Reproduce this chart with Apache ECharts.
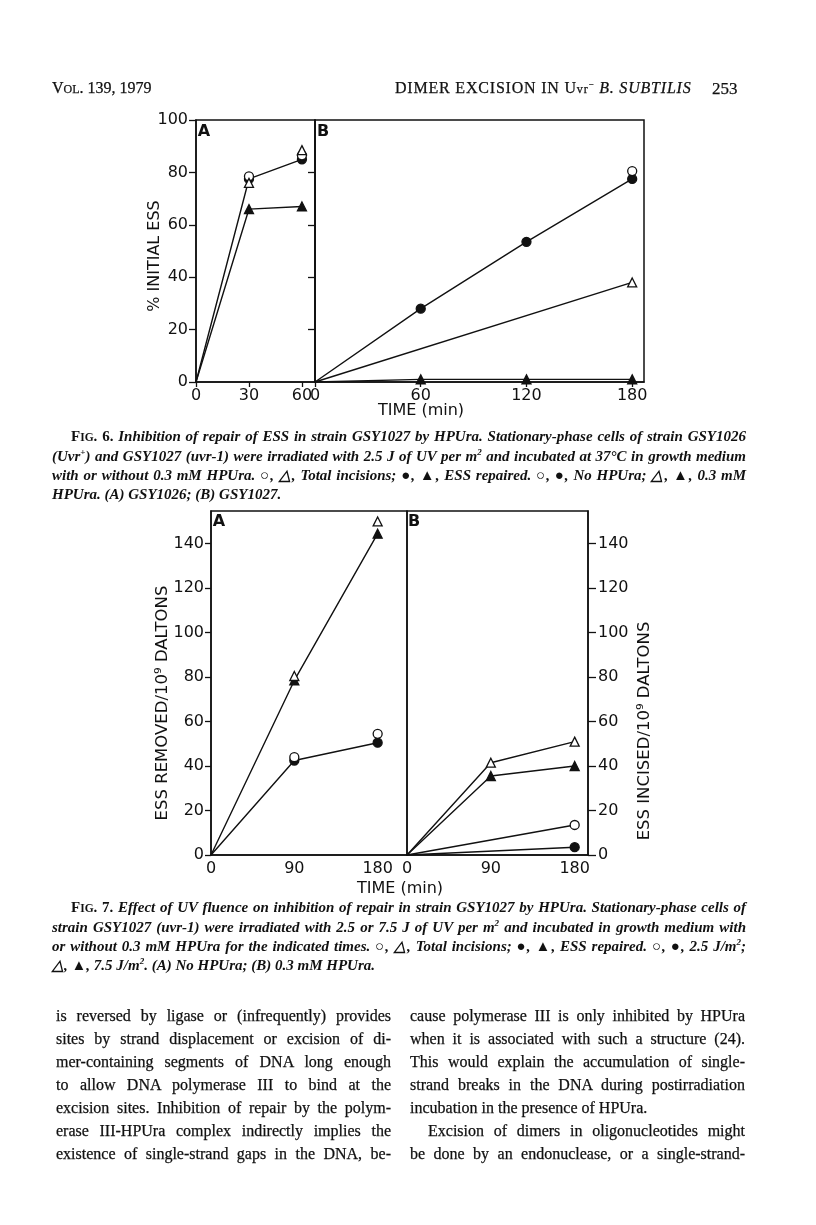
<!DOCTYPE html>
<html>
<head>
<meta charset="UTF-8">
<title>Dimer excision in Uvr- B. subtilis</title>
<script src="https://cdn.jsdelivr.net/npm/echarts@6/dist/echarts.min.js"></script>
<style>
  * { margin: 0; padding: 0; }
  body { width: 816px; height: 1225px; background: #fff; position: relative; overflow: hidden; }
  #main { position: absolute; left: 0; top: 0; width: 816px; height: 1225px; }
  .t { position: absolute; font-family: 'Liberation Serif', serif; color: #111; white-space: nowrap; z-index: 2; -webkit-text-stroke: 0.25px #111; }
  .hdr { font-size: 16px; top: 79px; }
  .cap { left: 52px; width: 694px; font-size: 15px; font-style: italic; font-weight: bold; line-height: 19px; -webkit-text-stroke: 0; }
  .cap div, .col div { text-align: justify; text-align-last: justify; }
  .cap div.last, .col div.last { text-align-last: left; }
  .sc { font-style: normal; font-size: 15px; }
  .sc small { font-size: 11.5px; }
  .col { width: 335px; font-size: 16px; line-height: 23px; top: 1004px; }
  sup { font-size: 9px; line-height: 0; }
</style>
</head>
<body>
<div id="main"></div>

<div class="t hdr" style="left:52px;">V<small style="font-size:12px">OL</small>. 139, 1979</div>
<div class="t hdr" style="left:395px; letter-spacing:0.8px;">DIMER EXCISION IN U<small style="font-size:12px">vr</small><sup>−</sup> <i>B. SUBTILIS</i></div>
<div class="t hdr" style="left:712px; font-size:17px;">253</div>

<div class="t cap" style="top:427px;">
  <div style="padding-left:19px;"><span class="sc">F<small>IG</small>. 6.</span> Inhibition of repair of ESS in strain GSY1027 by HPUra. Stationary-phase cells of strain GSY1026</div>
  <div>(Uvr<sup>+</sup>) and GSY1027 (uvr-1) were irradiated with 2.5 J of UV per m<sup>2</sup> and incubated at 37°C in growth medium</div>
  <div>with or without 0.3 mM HPUra. ○, △, Total incisions; ●, ▲, ESS repaired. ○, ●, No HPUra; △, ▲, 0.3 mM</div>
  <div class="last">HPUra. (A) GSY1026; (B) GSY1027.</div>
</div>

<div class="t cap" style="top:898px;">
  <div style="padding-left:19px;"><span class="sc">F<small>IG</small>. 7.</span> Effect of UV fluence on inhibition of repair in strain GSY1027 by HPUra. Stationary-phase cells of</div>
  <div>strain GSY1027 (uvr-1) were irradiated with 2.5 or 7.5 J of UV per m<sup>2</sup> and incubated in growth medium with</div>
  <div>or without 0.3 mM HPUra for the indicated times. ○, △, Total incisions; ●, ▲, ESS repaired. ○, ●, 2.5 J/m<sup>2</sup>;</div>
  <div class="last">△, ▲, 7.5 J/m<sup>2</sup>. (A) No HPUra; (B) 0.3 mM HPUra.</div>
</div>

<div class="t col" style="left:56px;">
  <div>is reversed by ligase or (infrequently) provides</div>
  <div>sites by strand displacement or excision of di-</div>
  <div>mer-containing segments of DNA long enough</div>
  <div>to allow DNA polymerase III to bind at the</div>
  <div>excision sites. Inhibition of repair by the polym-</div>
  <div>erase III-HPUra complex indirectly implies the</div>
  <div>existence of single-strand gaps in the DNA, be-</div>
</div>
<div class="t col" style="left:410px;">
  <div>cause polymerase III is only inhibited by HPUra</div>
  <div>when it is associated with such a structure (24).</div>
  <div>This would explain the accumulation of single-</div>
  <div>strand breaks in the DNA during postirradiation</div>
  <div class="last">incubation in the presence of HPUra.</div>
  <div style="padding-left:18px;">Excision of dimers in oligonucleotides might</div>
  <div>be done by an endonuclease, or a single-strand-</div>
</div>

<script>
// ---- Fig. 6 (% initial ESS) ----
var f6aTime = [0, 30, 60];
var f6aOpenCircle = [null, 78.5, 86.5];
var f6aFilledCircle = [0, 77.5, 85];
var f6aOpenTriangle = [null, 76, 88.5];
var f6aFilledTriangle = [0, 66, 67];

var f6bTime = [0, 60, 120, 180];
var f6bOpenCircle = [null, null, null, 80.5];
var f6bFilledCircle = [0, 28, 53.5, 77.5];
var f6bOpenTriangle = [0, null, null, 38];
var f6bFilledTriangle = [0, 1, 1, 1];

var f6aTicks = [0, 30, 60];
var f6bTicks = [0, 60, 120, 180];
var f6yTicks = [0, 20, 40, 60, 80, 100];

// ---- Fig. 7 (ESS per 10^9 daltons) ----
var f7Time = [0, 90, 180];
var f7aOpenTriangle = [null, 80.5, 150];
var f7aFilledTriangle = [0, 78.5, 144.5];
var f7aOpenCircle = [null, 44, 54.5];
var f7aFilledCircle = [0, 42.5, 50.5];

var f7bOpenTriangle = [0, 41.5, 51];
var f7bFilledTriangle = [0, 35.5, 40];
var f7bOpenCircle = [0, null, 13.5];
var f7bFilledCircle = [0, null, 3.5];

var f7xTicks = [0, 90, 180];
var f7yTicks = [0, 20, 40, 60, 80, 100, 120, 140];

var ink = '#111';
var sans = 'DejaVu Sans';

function pts(xs, ys) {
  // origin carries the line but no marker
  return xs.map(function (x, i) {
    if (ys[i] == null) return [x, null];
    if (x === 0) return { value: [x, ys[i]], symbol: 'none' };
    return [x, ys[i]];
  });
}

function ser(idx, xs, ys, shape, filled, withLine) {
  return {
    type: 'line',
    xAxisIndex: idx, yAxisIndex: idx,
    data: pts(xs, ys),
    connectNulls: true,
    symbol: shape,
    symbolSize: 9,
    showAllSymbol: true,
    lineStyle: { color: ink, width: withLine ? 1.4 : 0, opacity: withLine ? 1 : 0 },
    itemStyle: { color: filled ? ink : '#fff', borderColor: ink, borderWidth: 1.3 },
    z: filled ? 3 : 4,
    silent: true,
    animation: false
  };
}

function xAx(idx, max, labels, ticks) {
  return {
    type: 'value', gridIndex: idx, min: 0, max: max,
    splitLine: { show: false },
    axisLine: { show: true, onZero: false, lineStyle: { color: ink, width: 1.5 } },
    axisTick: { show: ticks, length: 5, lineStyle: { color: ink, width: 1.3 }, customValues: labels },
    axisLabel: { color: ink, fontFamily: sans, fontSize: 16, margin: 6, customValues: labels }
  };
}

function yAx(idx, max, labels, pos, showLabels, tickLen, margin) {
  return {
    type: 'value', gridIndex: idx, min: 0, max: max, position: pos,
    splitLine: { show: false },
    axisLine: { show: true, onZero: false, lineStyle: { color: ink, width: 1.5 } },
    axisTick: { show: true, length: tickLen, lineStyle: { color: ink, width: 1.3 }, customValues: labels },
    axisLabel: { show: showLabels, color: ink, fontFamily: sans, fontSize: 16, margin: margin, customValues: labels }
  };
}

function txt(x, y, s, size, rot, weight) {
  return {
    type: 'text', x: x, y: y, rotation: rot || 0, silent: true,
    style: {
      text: s, fill: ink, font: (weight || 'normal') + ' ' + size + 'px ' + sans,
      align: 'center', verticalAlign: 'middle', textAlign: 'center', textVerticalAlign: 'middle'
    }
  };
}

var gridStyle = { show: true, borderColor: ink, borderWidth: 1.5, backgroundColor: 'transparent' };

var myChart = echarts.init(document.getElementById('main'), null, { renderer: 'canvas' });
var option = {
  backgroundColor: '#fff',
  animation: false,
  grid: [
    Object.assign({ left: 196, top: 120, width: 119, height: 262 }, gridStyle),
    Object.assign({ left: 315, top: 120, width: 329, height: 262 }, gridStyle),
    Object.assign({ left: 211, top: 511, width: 196, height: 344 }, gridStyle),
    Object.assign({ left: 407, top: 511, width: 181, height: 344 }, gridStyle)
  ],
  xAxis: [
    xAx(0, 67.4, f6aTicks, true),
    xAx(1, 186.7, f6bTicks, true),
    xAx(2, 211.7, f7xTicks, false),
    xAx(3, 194.3, f7xTicks, false)
  ],
  yAxis: [
    yAx(0, 100, f6yTicks, 'left', true, 7, 8),
    yAx(1, 100, [20, 40, 60, 80], 'left', false, 7, 8),
    yAx(2, 154.7, f7yTicks, 'left', true, 6, 7),
    yAx(3, 154.7, f7yTicks, 'right', true, 8, 10)
  ],
  series: [
    ser(0, f6aTime, f6aFilledCircle, 'circle', true, true),
    ser(0, f6aTime, f6aOpenCircle, 'circle', false, false),
    ser(0, f6aTime, f6aOpenTriangle, 'triangle', false, false),
    ser(0, f6aTime, f6aFilledTriangle, 'triangle', true, true),

    ser(1, f6bTime, f6bFilledCircle, 'circle', true, true),
    ser(1, f6bTime, f6bOpenCircle, 'circle', false, false),
    ser(1, f6bTime, f6bOpenTriangle, 'triangle', false, true),
    ser(1, f6bTime, f6bFilledTriangle, 'triangle', true, true),

    ser(2, f7Time, f7aFilledTriangle, 'triangle', true, true),
    ser(2, f7Time, f7aOpenTriangle, 'triangle', false, false),
    ser(2, f7Time, f7aFilledCircle, 'circle', true, true),
    ser(2, f7Time, f7aOpenCircle, 'circle', false, false),

    ser(3, f7Time, f7bOpenTriangle, 'triangle', false, true),
    ser(3, f7Time, f7bFilledTriangle, 'triangle', true, true),
    ser(3, f7Time, f7bOpenCircle, 'circle', false, true),
    ser(3, f7Time, f7bFilledCircle, 'circle', true, true)
  ],
  graphic: [
    txt(155, 256, '% INITIAL ESS', 16, Math.PI / 2),
    txt(421, 411, 'TIME (min)', 16),
    txt(204, 132, 'A', 16, 0, 'bold'),
    txt(323, 132, 'B', 16, 0, 'bold'),
    txt(163, 703, 'ESS REMOVED/10\u2079 DALTONS', 16.5, Math.PI / 2),
    txt(645, 731, 'ESS INCISED/10\u2079 DALTONS', 16.5, Math.PI / 2),
    txt(400, 889, 'TIME (min)', 16),
    txt(219, 522, 'A', 16, 0, 'bold'),
    txt(414, 522, 'B', 16, 0, 'bold')
  ]
};
myChart.setOption(option);
</script>
</body>
</html>
